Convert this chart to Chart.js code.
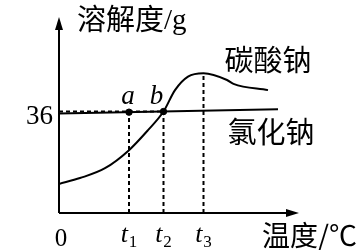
<!DOCTYPE html>
<html><head><meta charset="utf-8">
<script src="https://cdn.jsdelivr.net/npm/chart.js@4/dist/chart.umd.min.js"></script>
<style>html,body{margin:0;padding:0;background:#fff}canvas{display:block}</style>
</head><body>
<canvas id="c" width="356" height="250"></canvas>
<script>
// ---- data ----
const tickTemps = [7.0, 10.45, 14.45];          // t1, t2, t3
const tickSubs = ['1', '2', '3'];
const yTickValues = [36];
const yTickLabels = ['36'];
const originLabel = '0';
const na2co3Temps = [0, 2.1, 4.6, 7.0, 8.9, 10.45, 11.6, 12.9, 14.45, 16.8, 17.45, 20.9];
const na2co3Sol   = [10.3, 12.4, 15.9, 22.3, 29.4, 36.0, 43.6, 48.4, 49.6, 47.2, 45.8, 43.6];
const naclTemps = [0, 21.9];
const naclSol   = [35.3, 36.8];
const pointNames = ['a', 'b'];
const pointTemps = [7.0, 10.45];
const pointSol   = [35.78, 36.0];
const peakSol = 49.6;  // Na2CO3 at t3
const seriesNames = ['碳酸钠', '氯化钠'];
const yTitle = ['溶解度', '/g'];
const xTitle = '温度/℃';

const CJK = '"Noto Sans CJK SC"';
const SERIF = '"Liberation Serif"';

const toXY = (xs, ys) => xs.map((x, i) => ({x: x, y: ys[i]}));
const dashStyle = {borderColor: '#000', borderWidth: 2, borderDash: [4, 3], pointRadius: 0, fill: false, tension: 0};

const guides = [
  [{x: 0, y: yTickValues[0]}, {x: tickTemps[1], y: yTickValues[0]}],
  [{x: tickTemps[0], y: 0}, {x: tickTemps[0], y: pointSol[0]}],
  [{x: tickTemps[1], y: 0}, {x: tickTemps[1], y: pointSol[1]}],
  [{x: tickTemps[2], y: 0}, {x: tickTemps[2], y: peakSol}]
];

const decor = {
  id: 'decor',
  afterDatasetsDraw(chart) {
    const ctx = chart.ctx, xs = chart.scales.x, ys = chart.scales.y, ca = chart.chartArea;
    const x0 = xs.getPixelForValue(0), y0 = ys.getPixelForValue(0);
    ctx.save();
    ctx.strokeStyle = '#000'; ctx.fillStyle = '#000'; ctx.lineWidth = 2;
    // axes
    ctx.beginPath();
    ctx.moveTo(x0, y0); ctx.lineTo(x0, ca.top + 8);
    ctx.moveTo(x0, y0); ctx.lineTo(ca.right - 8, y0);
    ctx.stroke();
    // arrows
    ctx.beginPath();
    ctx.moveTo(x0, ca.top - 1); ctx.lineTo(x0 - 4, ca.top + 12); ctx.lineTo(x0 + 4, ca.top + 12); ctx.closePath();
    ctx.fill();
    ctx.beginPath();
    ctx.moveTo(ca.right + 1, y0); ctx.lineTo(ca.right - 12, y0 - 4); ctx.lineTo(ca.right - 12, y0 + 4); ctx.closePath();
    ctx.fill();

    ctx.textBaseline = 'alphabetic';
    // y tick label
    ctx.font = '27px ' + SERIF; ctx.textAlign = 'right';
    yTickValues.forEach((v, i) => ctx.fillText(yTickLabels[i], x0 - 6, ys.getPixelForValue(v) + 12.5));
    // origin
    ctx.font = '25px ' + SERIF; ctx.textAlign = 'center';
    ctx.fillText(originLabel, x0 + 2, y0 + 33);
    // t ticks
    tickTemps.forEach((t, i) => {
      const px = xs.getPixelForValue(t);
      ctx.font = 'italic 26px ' + SERIF;
      const w1 = ctx.measureText('t').width;
      ctx.font = '17px ' + SERIF;
      const w2 = ctx.measureText(tickSubs[i]).width;
      const left = px - (w1 + w2 + 1) / 2;
      ctx.textAlign = 'left';
      ctx.font = 'italic 26px ' + SERIF;
      ctx.fillText('t', left, y0 + 28.5);
      ctx.font = '17px ' + SERIF;
      ctx.fillText(tickSubs[i], left + w1 + 1, y0 + 33.5);
    });
    // point labels
    ctx.font = 'italic 27px ' + SERIF; ctx.textAlign = 'center';
    const offs = [-1, -7];
    pointNames.forEach((n, i) => {
      ctx.fillText(n, xs.getPixelForValue(pointTemps[i]) + offs[i], ys.getPixelForValue(pointSol[i]) - 8);
    });
    // y title
    ctx.textAlign = 'left'; ctx.textBaseline = 'middle';
    ctx.font = '29px ' + CJK;
    const tx = x0 + 18, ty = ca.top + 1;
    ctx.fillText(yTitle[0], tx, ty);
    const wt = ctx.measureText(yTitle[0]).width;
    ctx.font = '29px ' + SERIF;
    ctx.fillText(yTitle[1], tx + wt, ty + 2);
    // x title
    ctx.font = '28px ' + CJK;
    ctx.fillText(xTitle, ca.right - 36, y0 + 22);
    // series names
    ctx.font = '29px ' + CJK; ctx.textAlign = 'center';
    ctx.fillText(seriesNames[0], 268, 60);
    ctx.fillText(seriesNames[1], 271, 132);
    ctx.restore();
  }
};

new Chart(document.getElementById('c'), {
  type: 'line',
  data: {
    datasets: [
      {label: seriesNames[0], data: toXY(na2co3Temps, na2co3Sol), borderColor: '#000', borderWidth: 2,
       pointRadius: 0, cubicInterpolationMode: 'monotone', fill: false},
      {label: seriesNames[1], data: toXY(naclTemps, naclSol), borderColor: '#000', borderWidth: 2,
       pointRadius: 0, tension: 0, fill: false},
      ...guides.map(g => Object.assign({data: g}, dashStyle)),
      {type: 'scatter', data: toXY(pointTemps, pointSol), pointRadius: 3.2, pointBackgroundColor: '#000',
       pointBorderColor: '#000', showLine: false}
    ]
  },
  options: {
    responsive: false,
    animation: false,
    devicePixelRatio: 1,
    layout: {padding: {left: 59, right: 58, top: 18, bottom: 37}},
    plugins: {legend: {display: false}, tooltip: {enabled: false}},
    scales: {
      x: {type: 'linear', min: 0, max: 23.9, display: false},
      y: {type: 'linear', min: 0, max: 69.2, display: false}
    }
  },
  plugins: [decor]
});
</script>
</body></html>
